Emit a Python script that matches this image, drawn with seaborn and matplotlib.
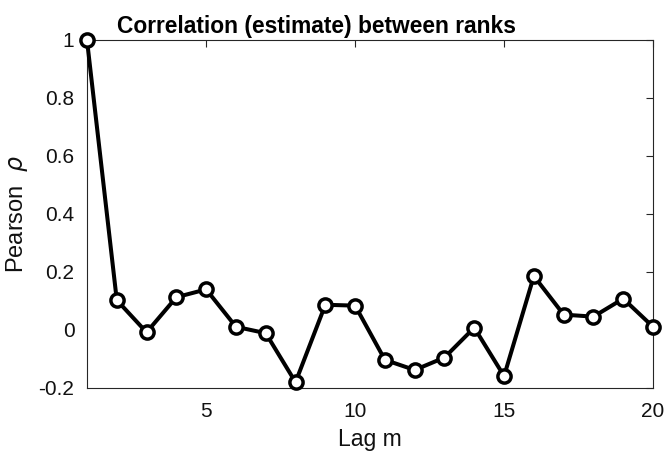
import matplotlib
matplotlib.use("Agg")
import matplotlib.pyplot as plt
import seaborn as sns
import pandas as pd

lags = list(range(1, 21))
rho = [1.0, 0.103, -0.008, 0.113, 0.140, 0.011, -0.011, -0.180, 0.087, 0.084,
       -0.103, -0.138, -0.095, 0.008, -0.159, 0.186, 0.053, 0.046, 0.108, 0.011]
xticks = [5, 10, 15, 20]
yticks = [-0.2, 0, 0.2, 0.4, 0.6, 0.8, 1]
ytick_labels = ["-0.2", "0", "0.2", "0.4", "0.6", "0.8", "1"]

sns.set_style("white", {"text.color": "black", "axes.labelcolor": "black",
                        "xtick.color": "black", "ytick.color": "black"})
plt.rcParams['font.family'] = ['Liberation Sans', 'DejaVu Sans']

df = pd.DataFrame({"lag": lags, "rho": rho})

fig = plt.figure(figsize=(6.65, 4.54), dpi=100)
ax = fig.add_axes([0.1308, 0.1454, 0.982 - 0.1308, 0.9119 - 0.1454])

sns.lineplot(data=df, x="lag", y="rho", ax=ax, color="black", linewidth=2.9,
             marker="o", markersize=9.5, markerfacecolor="white",
             markeredgecolor="black", markeredgewidth=2.5, clip_on=False, zorder=5)

ax.set_xlim(1, 20)
ax.set_ylim(-0.2, 1)
ax.set_xticks(xticks)
ax.set_xticklabels([str(t) for t in xticks])
ax.set_yticks(yticks)
ax.set_yticklabels(ytick_labels)
ax.tick_params(direction="in", length=5, width=0.8, labelsize=15, color="#262626",
               labelcolor="#111111", top=True, right=True, labeltop=False, labelright=False)
ax.tick_params(axis="x", pad=10)
ax.tick_params(axis="y", pad=9)
for s in ax.spines.values():
    s.set_color("#262626")
    s.set_linewidth(0.8)

ax.set_title("Correlation (estimate) between ranks", fontsize=16.4, fontweight="bold",
             pad=5, x=0.405, color="black")
ax.set_xlabel("Lag m", fontsize=16.6, labelpad=5, color="#111111")
ax.set_ylabel(r"Pearson  $\rho$", fontsize=17, labelpad=6, color="#111111")

fig.savefig("out.png", dpi=100)
